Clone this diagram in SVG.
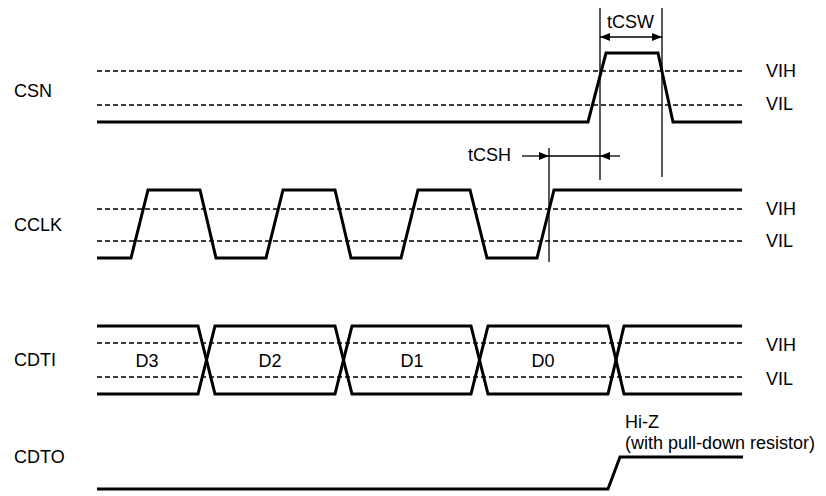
<svg xmlns="http://www.w3.org/2000/svg" width="826" height="496" viewBox="0 0 826 496">
<style>
text{font-family:"Liberation Sans",Arial,sans-serif;font-size:18px;fill:#000}
.sig{fill:none;stroke:#000;stroke-width:3;stroke-linejoin:miter}
.dash{fill:none;stroke:#000;stroke-width:1.3;stroke-dasharray:5,3}
.thin{fill:none;stroke:#000;stroke-width:1.3}
</style>
<defs>
<marker id="ah" viewBox="0 0 10 8" refX="10" refY="4" markerWidth="10" markerHeight="8" markerUnits="userSpaceOnUse" orient="auto">
<path d="M0,0 L10,4 L0,8 Z" fill="#000"/>
</marker>
</defs>
<rect width="826" height="496" fill="#fff"/>
<g id="csn">
<text x="14" y="97">CSN</text>
<line class="dash" x1="97" y1="71" x2="742" y2="71"/>
<line class="dash" x1="97" y1="105" x2="742" y2="105"/>
<polyline class="sig" points="97,122 588,122 606,53 658,53 673,122 742,122"/>
<text x="766" y="77">VIH</text>
<text x="766" y="110">VIL</text>
</g>
<g id="cclk">
<text x="14" y="231">CCLK</text>
<line class="dash" x1="97" y1="209" x2="742" y2="209"/>
<line class="dash" x1="97" y1="241" x2="742" y2="241"/>
<polyline class="sig" points="97,258 131,258 148,190 200,190 216,258 266,258 283,190 335,190 351,258 401,258 418,190 470,190 487,258 537,258 554,190 742,190"/>
<text x="766" y="215">VIH</text>
<text x="766" y="247">VIL</text>
</g>
<g id="cdti">
<text x="14" y="366">CDTI</text>
<line class="dash" x1="97" y1="343" x2="742" y2="343"/>
<line class="dash" x1="97" y1="377" x2="742" y2="377"/>
<polyline class="sig" points="97,326 198,326 215,394 335,394 352,326 471,326 488,394 608,394 624,326 742,326"/>
<polyline class="sig" points="97,394 198,394 215,326 335,326 352,394 471,394 488,326 608,326 624,394 742,394"/>
<text x="147" y="367" text-anchor="middle">D3</text>
<text x="270" y="367" text-anchor="middle">D2</text>
<text x="412" y="367" text-anchor="middle">D1</text>
<text x="543" y="367" text-anchor="middle">D0</text>
<text x="766" y="351">VIH</text>
<text x="766" y="385">VIL</text>
</g>
<g id="cdto">
<text x="14" y="463">CDTO</text>
<polyline class="sig" points="97,489 608,489 620,457 743,457"/>
<text x="625" y="428">Hi-Z</text>
<text x="625" y="449">(with pull-down resistor)</text>
</g>
<g id="connectors">
<line class="thin" x1="600" y1="8" x2="600" y2="180"/>
<line class="thin" x1="662" y1="8" x2="662" y2="177"/>
<line class="thin" x1="610" y1="37" x2="600" y2="37" marker-end="url(#ah)"/>
<line class="thin" x1="652" y1="37" x2="662" y2="37" marker-end="url(#ah)"/>
<line class="thin" x1="605" y1="37" x2="657" y2="37"/>
<text x="607" y="28">tCSW</text>
<line class="thin" x1="549" y1="148" x2="549" y2="262"/>
<line class="thin" x1="522" y1="156" x2="549" y2="156" marker-end="url(#ah)"/>
<line class="thin" x1="549" y1="156" x2="600" y2="156"/>
<line class="thin" x1="620" y1="156" x2="600" y2="156" marker-end="url(#ah)"/>
<text x="468" y="161">tCSH</text>
</g>
</svg>
